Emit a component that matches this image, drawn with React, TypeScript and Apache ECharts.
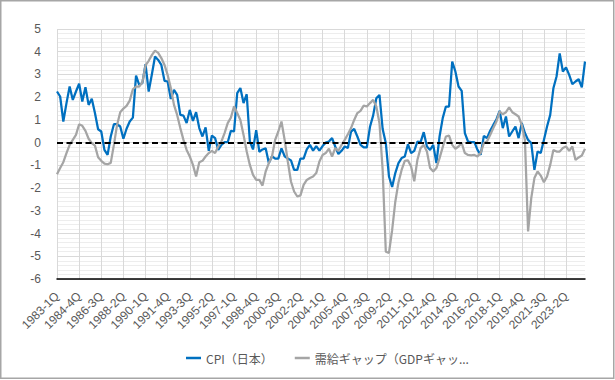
import React, { useEffect, useRef } from "react";
import * as echarts from "echarts";

const startYear = 1983;
const quarterCount = 168;
const categories: string[] = [];
for (let k = 0; k < quarterCount; k++) {
  categories.push(`${startYear + Math.floor(k / 4)}-${(k % 4) + 1}Q`);
}

const cpiName = "CPI（日本）";
const gapName = "需給ギャップ（GDPギャップ）";

const cpi = [
  2.25, 2.03, 0.93, 1.74, 2.47, 1.88, 2.25, 2.59, 1.81, 2.44,
  1.66, 1.93, 1.3, 0.59, 0.49, -0.32, -0.54, 0.27, 0.81, 0.81,
  0.71, 0.17, 0.61, 0.93, 1.1, 2.95, 2.54, 2.62, 3.45, 2.25,
  3.0, 3.79, 3.64, 3.42, 2.72, 2.69, 1.92, 2.32, 2.1, 1.22,
  1.19, 0.86, 1.44, 0.96, 1.34, 0.64, 0.27, 0.67, -0.36, 0.31,
  0.2, -0.32, -0.1, 0.02, 0.02, 0.52, 0.49, 2.18, 2.4, 1.74,
  2.13, 0.05, -0.3, 0.55, -0.4, -0.3, -0.25, -0.9, -0.6, -0.7,
  -0.7, -0.25, -0.6, -0.7, -0.78, -1.2, -1.2, -0.7, -0.7, -0.3,
  -0.1, -0.35, -0.15, -0.35, -0.15, 0.0, 0.05, 0.2, -0.17, -0.5,
  -0.36, -0.17, -0.24, 0.49, 0.6, 0.27, -0.1, -0.21, -0.21, 0.7,
  1.2, 1.95, 2.1, 0.6, -0.02, -1.49, -1.95, -1.34, -0.9, -0.68,
  -0.61, -0.07, -0.46, -0.36, 0.05, 0.02, 0.46, -0.17, -0.32, -0.1,
  -0.9, 0.27, 1.08, 1.59, 1.59, 3.57, 3.13, 2.47, 2.28, 0.42,
  0.05, 0.02, 0.02, -0.32, -0.54, 0.3, 0.2, 0.52, 0.78, 1.03,
  1.4, 0.64, 1.15, 0.27, 0.49, 0.71, 0.2, 0.86, 0.42, 0.12,
  -0.02, -1.2, -0.39, -0.46, 0.12, 0.71, 1.22, 2.39, 2.91, 3.93,
  3.13, 3.31, 2.98, 2.57, 2.69, 2.79, 2.43, 3.57,
];

const gap = [
  -1.39, -1.12, -0.86, -0.46, -0.1, 0.12, 0.34, 0.81, 0.74, 0.52,
  0.17, -0.02, -0.13, -0.64, -0.8, -0.92, -0.95, -0.89, -0.1, 0.78,
  1.34, 1.5, 1.62, 1.85, 2.35, 2.47, 2.47, 2.65, 3.4, 3.6,
  3.85, 4.05, 3.95, 3.72, 3.42, 2.98, 2.4, 1.66, 1.22, 0.64,
  0.12, -0.32, -0.61, -0.98, -1.49, -0.86, -0.8, -0.61, -0.46, -0.36,
  -0.46, -0.17, 0.05, 0.42, 0.86, 1.1, 1.6, 1.3, 1.0, 0.34,
  -0.39, -0.98, -1.42, -1.64, -1.64, -1.89, -1.27, -0.9, -0.61, 0.12,
  0.49, 0.93, 0.12, -0.83, -1.71, -2.15, -2.37, -2.32, -1.86, -1.64,
  -1.56, -1.49, -1.34, -0.83, -0.54, -0.46, -0.27, -0.61, -0.24, -0.36,
  -0.1, 0.12, 0.37, 0.64, 1.0, 1.3, 1.4, 1.63, 1.59, 1.74,
  1.88, 1.59, 0.85, -1.2, -4.8, -4.85, -3.85, -2.6, -1.75, -1.2,
  -0.8, -0.78, -1.05, -1.7, -0.75, -0.24, -0.1, -0.39, -1.12, -1.27,
  -1.12, -0.68, -0.2, 0.27, 0.31, -0.1, -0.27, -0.17, -0.02, -0.46,
  -0.54, -0.56, -0.54, -0.61, -0.46, -0.02, 0.05, 0.34, 0.64, 0.93,
  1.37, 1.25, 1.34, 1.55, 1.34, 1.25, 1.15, 0.78, 0.12, -3.91,
  -2.44, -1.56, -1.27, -1.45, -1.74, -1.49, -0.98, -0.32, -0.39, -0.39,
  -0.24, -0.17, -0.36, -0.17, -0.76, -0.65, -0.57, -0.27,
];

const yMin = -6;
const yMax = 5;
const yStep = 1;
const labelEvery = 6;

export default function App() {
  const ref = useRef<HTMLDivElement>(null);
  useEffect(() => {
    const chart = echarts.init(ref.current!, null, { renderer: "svg" });
    chart.setOption({
      animation: false,
      backgroundColor: "#ffffff",
      textStyle: { fontFamily: "'Liberation Sans', Arial, sans-serif" },
      grid: { left: 57, right: 30, top: 29, bottom: 101, containLabel: false },
      graphic: [
        {
          type: "rect",
          silent: true,
          z: 100,
          shape: { x: 0.75, y: 0.75, width: 613, height: 377.5 },
          style: { fill: "none", stroke: "#a6a6a6", lineWidth: 1.5 },
        },
      ],
      legend: {
        left: 181,
        top: 347,
        icon: "rect",
        itemWidth: 15,
        itemHeight: 2.5,
        itemGap: 22,
        textStyle: {
          fontFamily: "'Noto Sans CJK JP', sans-serif",
          fontSize: 12,
          color: "#595959",
        },
        data: [
          { name: cpiName },
          {
            name: gapName,
            textStyle: { width: 158, overflow: "truncate", ellipsis: "..." },
          },
        ],
      },
      xAxis: {
        type: "category",
        data: categories,
        boundaryGap: false,
        axisLine: { show: true, onZero: false, lineStyle: { color: "#000000", width: 1.5 } },
        axisTick: { show: false },
        axisLabel: {
          interval: labelEvery,
          rotate: 45,
          fontSize: 12,
          color: "#595959",
          margin: 15,
        },
        splitLine: { show: true, interval: labelEvery, lineStyle: { color: "#d9d9d9", width: 1 } },
      },
      yAxis: {
        type: "value",
        min: yMin,
        max: yMax,
        interval: yStep,
        axisLine: { show: false },
        axisTick: { show: false },
        axisLabel: { fontSize: 12, color: "#595959", margin: 16 },
        splitLine: { show: true, lineStyle: { color: "#d9d9d9", width: 1 } },
        minorTick: { show: false, splitNumber: 5 },
        minorSplitLine: { show: true, lineStyle: { color: "#ededed", width: 1 } },
      },
      series: [
        {
          name: cpiName,
          type: "line",
          data: cpi,
          symbol: "none",
          showSymbol: false,
          lineStyle: { color: "#0070C0", width: 2.25 },
          itemStyle: { color: "#0070C0" },
          z: 2,
        },
        {
          name: gapName,
          type: "line",
          data: gap,
          symbol: "none",
          showSymbol: false,
          lineStyle: { color: "#A5A5A5", width: 2.25 },
          itemStyle: { color: "#A5A5A5" },
          z: 3,
          markLine: {
            silent: true,
            symbol: ["none", "none"],
            label: { show: false },
            lineStyle: { color: "#000000", type: [6, 3.5], width: 2 },
            data: [{ yAxis: 0 }],
          },
        },
      ],
    });
    return () => chart.dispose();
  }, []);
  return (
    <div
      ref={ref}
      style={{ position: "fixed", left: 0, top: 0, width: 615, height: 380 }}
    />
  );
}
